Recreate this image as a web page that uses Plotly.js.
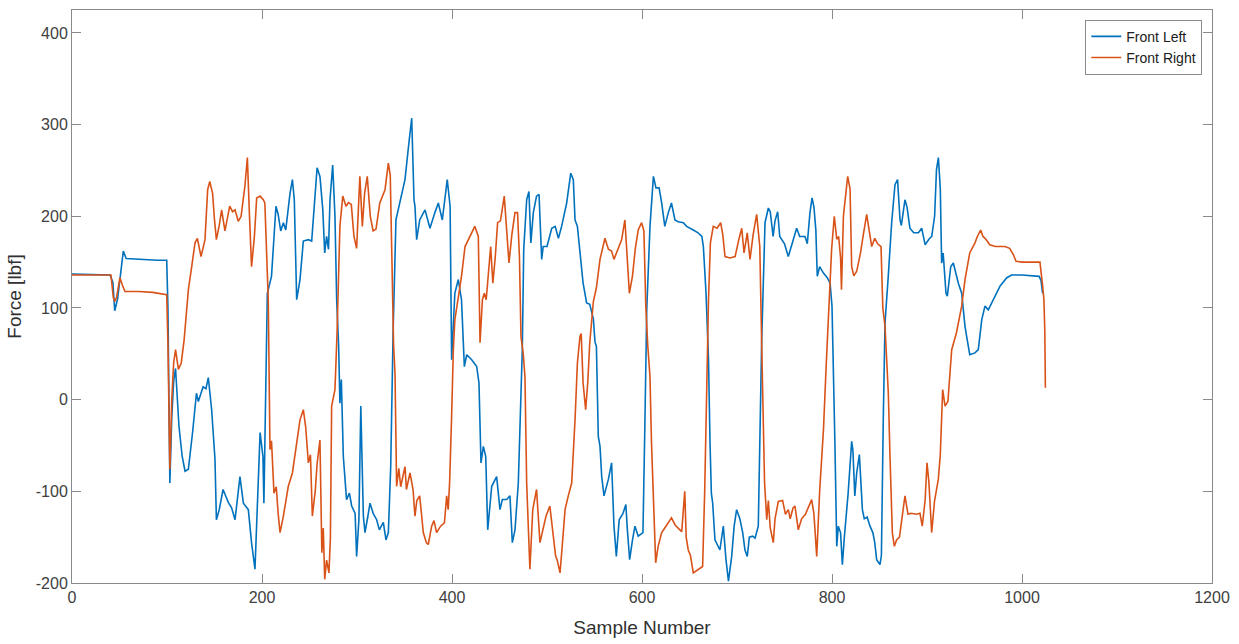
<!DOCTYPE html>
<html>
<head>
<meta charset="utf-8">
<script src="https://cdn.plot.ly/plotly-3.0.1.min.js"></script>
<style>html,body{margin:0;padding:0;background:#fff;}#chart{width:1239px;height:644px;}</style>
</head>
<body>
<div id="chart"></div>
<script>
// Front Left (sample number, force lbf)
const leftSamples = [0,20,40,43,45,48,51,54,57,70,90,99.7,101,103,105,107,109,112.6,116,119,122.5,127,131,133,138,141,143.5,147,150.5,152,155,159,164.5,168,171.6,176.8,180.4,185.6,189,192.6,195,198,201,202,205.6,208,210,214.7,217,219.7,222.5,225,229.5,232,234,236.5,240,243.5,248.8,252.3,255.8,258,261,264,266,268,270,271.6,274.4,276.8,278.6,280.7,282,283.5,285.6,289,292,294.4,298,299.6,302,304,306.7,308.4,310.8,313.7,317,320.7,323.5,327.7,330.5,333,335.5,338,341,345,350.5,355,357.6,360,361,362.8,366,371.6,376.8,382,385.6,389.8,392.6,395,398,399.6,403,406.6,410,413,415.5,420.7,426,428.4,430.5,433,435.5,437.6,441.8,447,450.5,453,457.6,461,463.5,466.3,469.8,472.6,474,475.5,478.6,481,483,485.6,489,491.6,494.4,496,500,505,508.6,512,515.4,520.7,525,527.7,529.5,532,533.7,536.5,538,541.7,545,548.8,550.5,552,554,555.8,557.6,560,564.6,568,570.5,573,576,580,583,584.6,587,590,592.6,596,601,603,605,608.4,612,614.7,618,620.7,624,627.7,631,634.7,638,643.5,647,654,659,663,664.6,667.4,670,671.6,673,674.4,676.8,682,685.6,688.4,691,694.4,697,699.6,703,706,708.4,710.8,713,716.5,719,722.4,726,729.5,733,735,738,740,742.8,745,750,754,758,762.8,766,771.6,774,776.8,779,781,783,784.5,787,791,795,798,800,801.4,803,805,806.6,809,810.9,813,817,820.7,822,824,826,828.8,832,834,837,840,843,845,847,850.5,852,854,855.8,859,862.8,866.3,869,871.6,873,876.8,879,882,886,891,894.4,898,902,905,908,910,912,914,915.4,917,918.5,920,921.4,925,927.7,930,933,936.5,940,942.4,945,950.5,954,957.6,961,964.5,970,977,984,989,1000,1013.7,1018,1020,1021.7];
const leftForce = [137,136.5,136,128,97,110,135,162,154,153,152,152,100,-91,-20,20,34,-29,-62,-78,-76,-35,7,-2,14,12,24,-11,-65,-131,-120,-98,-112,-118,-131,-84,-113,-120,-156,-185,-120,-36,-62,-113,116,125,134.5,211,202,184,193,185,225,240,218,109,131,173,174.5,173,218,253,243.5,207,160,178,164,218,256,200,109,58,-4,22,-62,-109,-102,-116,-124,-171,-131,-7,-127,-145,-131,-113,-124,-131,-142,-134,-153,-145,-73,73,196,215,240,283.5,307,218,211,174.5,196,207,187,204,214.5,196,218,240,211,43.6,116,131,109,36,49,43.6,36,18,-69,-51,-62,-142,-94.5,-84,-120,-109,-109,-105,-156,-142,-91,18,54.5,164,218,227,171,204,222,224,153,167,167,187,189,176,189,214.5,247,240,196,189,171,136,127,105.5,104,88,63,58,-40,-51,-84,-105,-87,-69,-138,-171,-131,-124,-114.5,-142,-174.5,-153,-138,-149,-145,-29,98,189,243.5,231,231,214.5,189,204,214.5,196,194,193,189,185,182,178,167,116,44,-47,-102,-113,-153,-164,-138,-174.5,-198,-171,-138,-120,-130,-145,-164,-171,-150,-149,-151,-138,65,193,209,205,178,195,205,178,170,156,170,187,178,178,170,204,220,210,185,134.5,145,138,133,127,102,47,-44,-160,-138,-145,-180,-150,-102,-45.5,-55,-105,-80,-60,-120,-130,-128,-138,-145,-156,-174.5,-180,-170,-20,84,131,193,234.5,240,196,190,218,210,187,182,182,187,169,175,178,200,251,264,230,149,160,140,116,113,145,149,138,127,116,80,65,49,51,54.5,87,102,98,109,124,133,136,136,135,134.5,130,116];

// Front Right (sample number, force lbf)
const rightSamples = [0,20,41,43.5,45,47,50.5,53,55.8,70,85,99.7,101,103,105,107,109,112,115,118,122.5,126,129.5,132,135.8,140,142.8,145,148,150,152,155,157.5,161,163,166,169,171.6,175,178,182,184.6,186.7,189,192,194.4,198,201.4,203,205,206.6,208.4,210,212.6,215,217,219,222.5,227.7,232,236.5,240,243.5,246,248.8,251,253,256,258,261,263,264.5,266,268,270.5,272,273.3,276.8,279,282,285,288.4,291,294,296.8,299.6,303,305.6,308,310.8,314,317,320,324,329.5,333,335,337,338.5,340,341.7,344,346,350.5,352,355.8,359,361,363,366,369.8,373,375,378.6,381,383.8,388,392,394.4,396,397.5,399.6,401.4,403,406.6,410,413.7,419,424,427.7,429.5,432,434,436,438,440.7,443,445.5,448,451,455,457,460,463,466.3,469,471,472.6,475,476.8,478.6,482,485,489,492.6,495,499,503,506.6,509,511,513.7,516,519,522.4,526,529.5,532,534.7,536,538,540.7,543,545,548.8,552,555.8,561,564.6,568,570.5,575,578.6,582,584,586.7,590,593,596,599.6,602,604,606,608.4,610,612,614.4,617,620.7,624,628,631,635,638,641.8,645,646.5,648.7,651,654,658,663.8,666,668,670,672,675,679,682.8,685,687.4,692.6,698,702,705,707.4,710.8,713.7,717,720.7,724,726,727.7,729,731.3,733,735,738.2,740,743.5,748,751,754,756,759,761,764.5,768,772,778.6,781,783.9,787,791,794,796.8,799.6,802.4,805,807,809,810,812,816.5,819,820.7,823,826,830,833,836.5,838,841.8,845,848,851.6,853.5,855.8,857.5,859.3,861,863.5,865.6,868,871,874,876.8,880,883,889,892.6,895,898,900,902,904.9,908,911.9,914,916.5,919,922,926,931,936.5,940,945,950.5,953,956.5,959,962,966,972,982,987,991,993.7,1000,1010,1018.9,1021.7,1023,1024,1024.6];
const rightForce = [136,136,136,111,107,112,133,125,118,118,117,114.5,60,-76,0,40,54.5,33,40,65,120,145,171,176,156,174.5,229,238,225,196,174.5,190,207,184,195,211,205,207,194.5,200,233,264,204,145,178,220,222,218,214.5,150,109,-54.5,-45,-102,-95,-124,-145,-127,-94.5,-80,-47,-22,-11,-30,-69,-60,-127,-100,-70,-44,-167,-140,-196,-175,-189,-150,-7,11,73,189,222,211,215,213,178,165,243.5,189,225,243.5,200,184,186,214.5,229,258,245,145,60,29,-94.5,-75,-95,-73,-98,-80,-98,-127,-110,-105,-145,-156,-158,-138,-132,-145,-138,-134.5,-105,-120,-90,-18,54.5,87,109,134.5,167,178,189,178,62,109,116,109,134.5,167,127,155,193,195,222,192,149,180,204,204,155,69,50,25,-91,-185,-120,-98,-156,-145,-127,-116,-149,-170,-176,-189,-160,-120,-105,-91,-22,40,69,72,18,-11,20,62,107,122,153,176,164,162,153,164,174.5,196,165,116,135,165,185,193,184,102,60,25,-47,-110,-178,-160,-145,-140,-133,-129,-137,-140,-144,-100,-150,-164,-170,-189,-186,-182,-100,7,109,171,189,187,193,180,156,154.5,156,175,187,160,182,153,180,202,167,60,-22,-90,-131,-110,-140,-156,-130,-111,-110,-125,-120,-130,-118,-116,-142,-130,-125,-109,-125,-171,-100,-33,40,102,164,200,175,178,155,120,200,243.5,230,145,135,140,160,180,202,192,167,176,170,167,100,80,40,7,-60,-145,-160,-153,-150,-125,-105,-125,-124,-125,-124,-138,-110,-69,-90,-145,-110,-87,-60,11,-7,-2,54.5,73,102,131,160,171,178,185,178,175,169,167,167,165,158,151,150,150,150,124,110,76,13];

const seriesNames = ['Front Left', 'Front Right'];
const xTicks = [0, 200, 400, 600, 800, 1000, 1200];
const yTicks = [-200, -100, 0, 100, 200, 300, 400];

const axisColor = '#8a8a8a';
const fontFamily = 'Liberation Sans, Arial, sans-serif';
const tickFont = {family: fontFamily, size: 16, color: '#404040'};

const traces = [
  {x: leftSamples, y: leftForce, type: 'scatter', mode: 'lines', name: seriesNames[0],
   line: {color: '#0072BD', width: 1.6}},
  {x: rightSamples, y: rightForce, type: 'scatter', mode: 'lines', name: seriesNames[1],
   line: {color: '#D95319', width: 1.6}}
];

const layout = {
  width: 1239, height: 644,
  margin: {l: 72, r: 27, t: 10, b: 61},
  paper_bgcolor: '#fff', plot_bgcolor: '#fff',
  showlegend: true,
  legend: {x: 0.9915, y: 0.983, xanchor: 'right', yanchor: 'top',
    bgcolor: '#fff', bordercolor: '#8a8a8a', borderwidth: 1,
    font: {family: fontFamily, size: 14, color: '#202020'},
    tracegroupgap: 0, itemwidth: 30},
  xaxis: {
    range: [0, 1200], tickvals: xTicks, ticktext: xTicks.map(String),
    showgrid: false, zeroline: false, showline: true, linecolor: axisColor, linewidth: 1,
    mirror: 'ticks', ticks: 'inside', ticklen: 9, tickcolor: axisColor,
    tickfont: tickFont,
    title: {text: 'Sample Number', font: {family: fontFamily, size: 19, color: '#303030'}, standoff: 15}
  },
  yaxis: {
    range: [-200, 425], tickvals: yTicks, ticktext: yTicks.map(String),
    showgrid: false, zeroline: false, showline: true, linecolor: axisColor, linewidth: 1,
    mirror: 'ticks', ticks: 'inside', ticklen: 9, tickcolor: axisColor,
    tickfont: tickFont,
    title: {text: 'Force [lbf]', font: {family: fontFamily, size: 19, color: '#303030'}, standoff: 9}
  }
};

Plotly.newPlot('chart', traces, layout, {displayModeBar: false, staticPlot: true});
</script>
</body>
</html>
